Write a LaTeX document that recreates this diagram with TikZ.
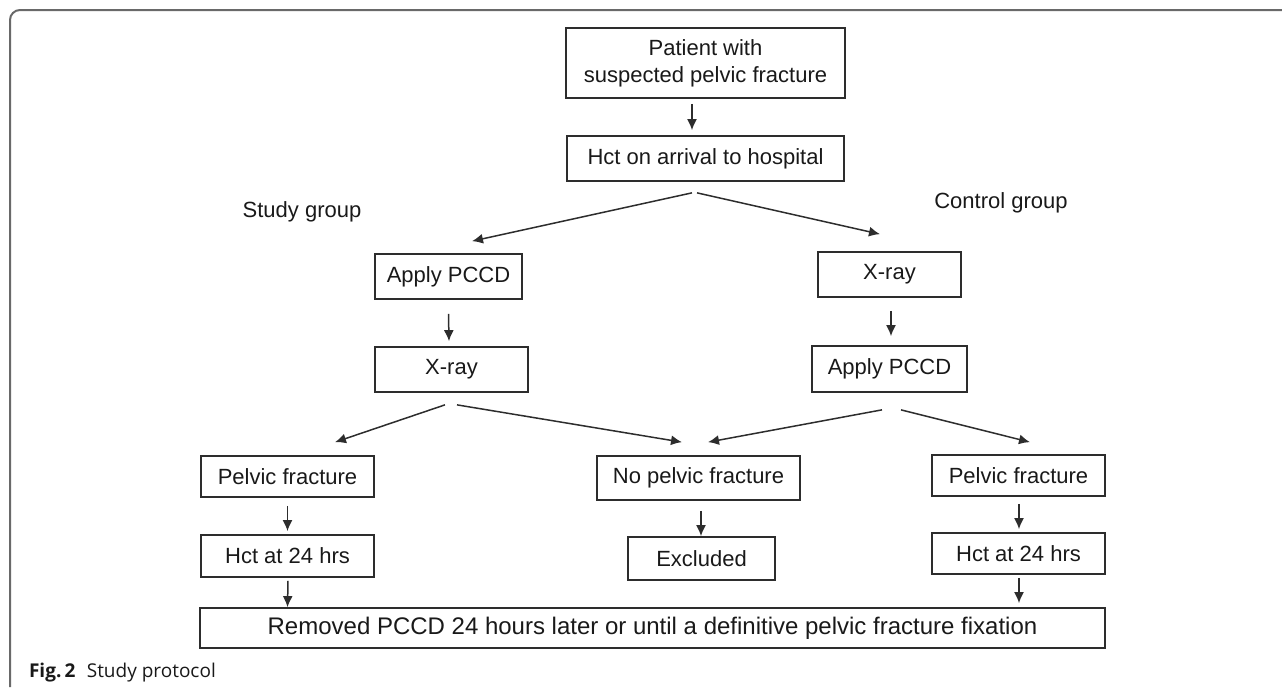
\documentclass[tikz,border=0pt]{standalone}
\usepackage{fontspec}
\setmainfont{Liberation Sans}
\newfontfamily\capfont{Open Sans}
\usetikzlibrary{arrows.meta,calc}
\definecolor{lineGray}{RGB}{45,45,45}
\definecolor{frameGray}{RGB}{105,105,105}
\definecolor{textDark}{RGB}{25,25,25}
\tikzstyle{flowbox}=[draw=lineGray, line width=0.85pt, inner sep=0pt, align=center, font=\fontsize{11}{13.5}\selectfont, text=textDark]
\tikzstyle{flowarrow}=[-{Latex[length=5.5pt,width=5pt]}, line width=0.75pt, color=lineGray]
\tikzstyle{grouplabel}=[font=\fontsize{11}{13}\selectfont, text=textDark]
\begin{document}
\begin{tikzpicture}[x=0.5pt,y=-0.5pt]
    \useasboundingbox (0,0) rectangle (1282,687);
    % --- moldura ---
    \draw[frameGray, line width=1pt, rounded corners=5pt] (10,687) -- (10,10) -- (1282,10);

    % --- topo ---
    \node[flowbox, minimum width=139.5pt, minimum height=35pt] (patient) at (705.5,63) {Patient with\\suspected pelvic fracture};
    \node[flowbox, minimum width=138.5pt, minimum height=22.5pt] (hctArrival) at (705.5,158.5) {Hct on arrival to hospital};

    \node[grouplabel] (studyLabel) at (302,212) {Study group};
    \node[grouplabel] (controlLabel) at (1001,203) {Control group};

    % --- grupo estudo ---
    \node[flowbox, minimum width=73.5pt, minimum height=22.5pt] (studyApply) at (448.5,276.5) {Apply PCCD};
    \node[flowbox, minimum width=76.5pt, minimum height=22.5pt] (studyXray) at (451.5,369.5) {X-ray};
    \node[flowbox, minimum width=86.5pt, minimum height=20.5pt] (studyPelvic) at (287.5,476.5) {Pelvic fracture};
    \node[flowbox, minimum width=86.5pt, minimum height=21pt] (studyHct) at (287.5,556) {Hct at 24 hrs};

    % --- grupo controle ---
    \node[flowbox, minimum width=71.5pt, minimum height=22.5pt] (controlXray) at (889.5,274.5) {X-ray};
    \node[flowbox, minimum width=77.5pt, minimum height=23pt] (controlApply) at (889.5,369) {Apply PCCD};
    \node[flowbox, minimum width=86.5pt, minimum height=20.5pt] (controlPelvic) at (1018.5,475.5) {Pelvic fracture};
    \node[flowbox, minimum width=86.5pt, minimum height=20.5pt] (controlHct) at (1018.5,553.5) {Hct at 24 hrs};

    % --- sem fratura ---
    \node[flowbox, minimum width=101.5pt, minimum height=22pt] (noPelvic) at (698.5,478) {No pelvic fracture};
    \node[flowbox, minimum width=73.5pt, minimum height=21.5pt] (excluded) at (701.5,558.5) {Excluded};

    % --- final ---
    \node[flowbox, minimum width=452.5pt, minimum height=20pt, font=\fontsize{12}{14}\selectfont] (removed) at (652.5,628) {Removed PCCD 24 hours later or until a definitive pelvic fracture fixation};

    % --- setas ---
    \draw[flowarrow] ($(patient.south)+(-13.5,5)$) -- ($(hctArrival.north)+(-13.5,-5)$);
    \draw[flowarrow] ($(hctArrival.south)+(-13.5,11)$) -- ($(studyApply.north)+(23.5,-12)$);
    \draw[flowarrow] ($(hctArrival.south)+(-8.5,11)$) -- ($(controlXray.north)+(-9.5,-17)$);

    \draw[flowarrow] ($(studyApply.south)+(0,14)$) -- ($(studyXray.north)+(-2.5,-5)$);
    \draw[flowarrow] ($(controlXray.south)+(1.5,13)$) -- ($(controlApply.north)+(1.5,-9)$);

    \draw[flowarrow] ($(studyXray.south)+(-6.5,12)$) -- ($(studyPelvic.north)+(47.5,-13)$);
    \draw[flowarrow] ($(studyXray.south)+(5.5,12)$) -- ($(noPelvic.north)+(-16.5,-13)$);
    \draw[flowarrow] ($(controlApply.south)+(-7.5,17)$) -- ($(noPelvic.north)+(9.5,-13)$);
    \draw[flowarrow] ($(controlApply.south)+(11.5,17)$) -- ($(controlPelvic.north)+(11.5,-12)$);

    \draw[flowarrow] ($(studyPelvic.south)+(0,8)$) -- ($(studyHct.north)+(0,-3)$);
    \draw[flowarrow] ($(noPelvic.south)+(2.5,10)$) -- ($(excluded.north)+(-0.5,0)$);
    \draw[flowarrow] ($(controlPelvic.south)+(0.5,7)$) -- ($(controlHct.north)+(0.5,-3)$);
    \draw[flowarrow] ($(studyHct.south)+(0.5,3)$) -- (studyHct.south |- removed.north);
    \draw[flowarrow] ($(controlHct.south)+(0.5,3)$) -- ($(controlHct.south |- removed.north)+(0.5,-4)$);

    % --- legenda ---
    \node[anchor=west, font=\capfont\fontsize{9.5}{11}\selectfont, text=textDark] (caption) at (22,673) {\textbf{Fig.\,2}\hspace{0.6em}Study protocol};
\end{tikzpicture}
\end{document}
